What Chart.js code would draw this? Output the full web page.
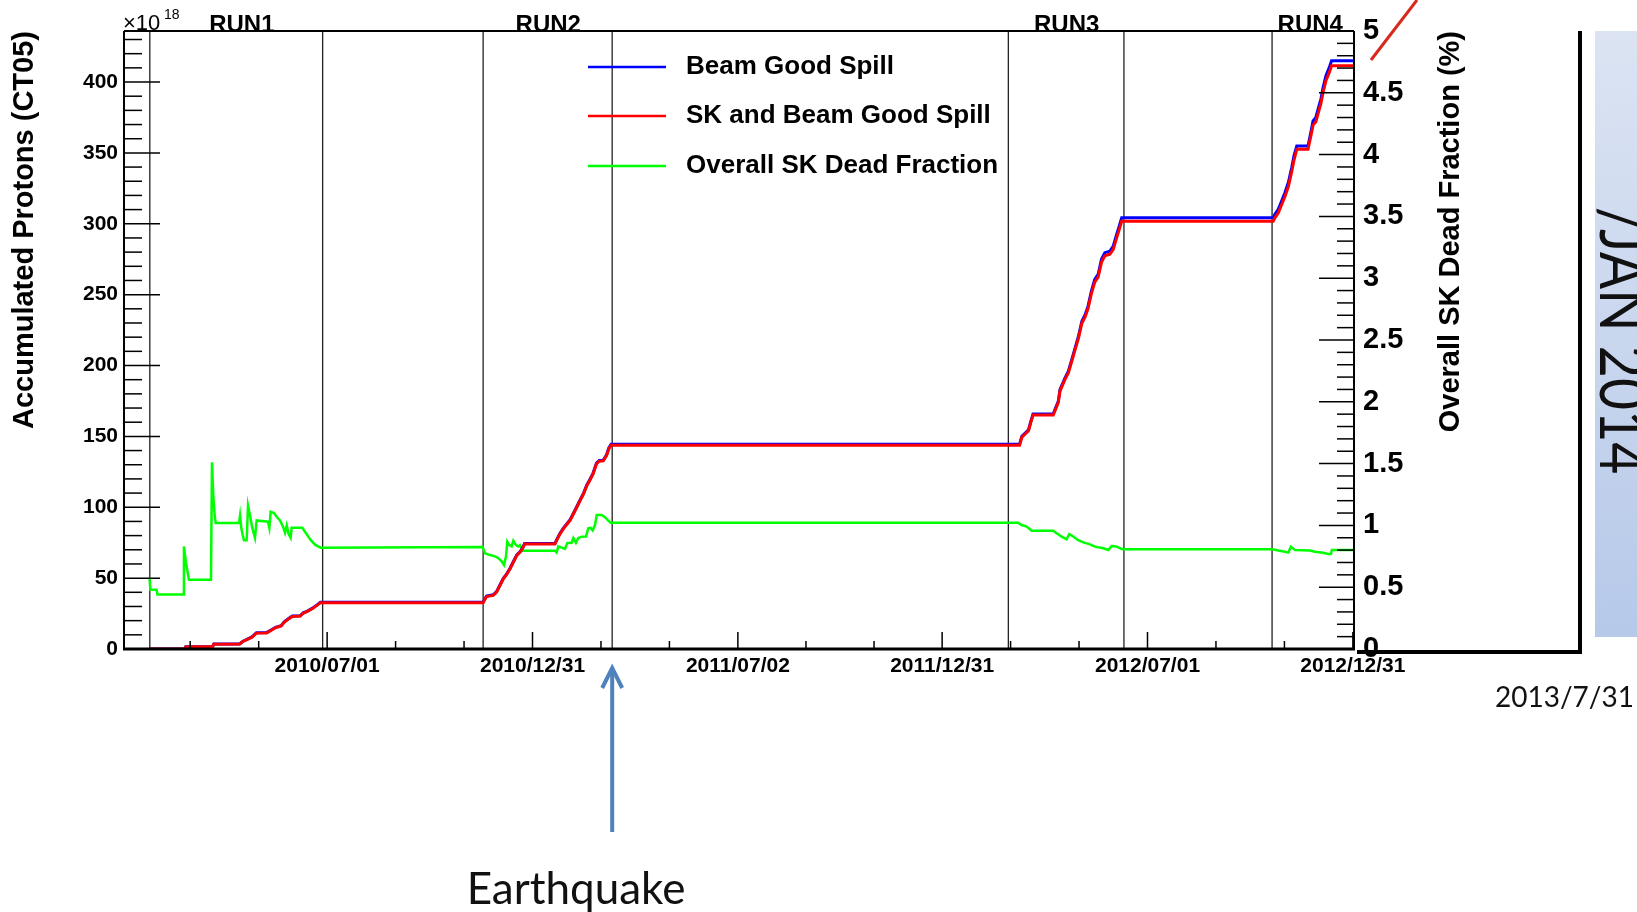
<!DOCTYPE html>
<html>
<head>
<meta charset="utf-8">
<title>Accumulated POT</title>
<script src="https://cdn.jsdelivr.net/npm/chart.js@4.4.1/dist/chart.umd.min.js"></script>
<style>
  html, body { margin: 0; padding: 0; background: #fff; }
  canvas { display: block; }
</style>
</head>
<body>
<canvas id="pot" width="1637" height="912"></canvas>
<script>
// days counted from 2010/01/01
const potDays = [23, 54, 55, 79, 80, 103, 106, 110, 114, 118, 127, 131, 135, 140, 143, 147, 150, 157, 160, 163, 168, 172, 175,
  320, 321, 323, 329, 332, 335, 338, 341, 344, 347, 350, 353, 355, 357, 384, 385.5, 388.5, 391.5, 394.5, 397.5, 400.5, 403.5,
  406.5, 409.5, 412.5, 415, 418, 421, 423.5, 427, 430, 432, 434,
  798, 800, 803, 806, 808, 810, 828, 829.5, 832.5, 834, 838.5, 841.5, 844.5, 847.5, 850.5, 853.5, 856.5, 859, 862, 865, 868,
  871, 874, 878.5, 881.5, 884.5, 887, 889,
  1024, 1025.5, 1028.5, 1031.5, 1034.5, 1037.5, 1040.5, 1042.5, 1045, 1055, 1057.5, 1059.5, 1062, 1064, 1066.5, 1068.5, 1071,
  1074, 1076, 1096];
// x10^18 protons
const beamPot = [0, 0, 1.6, 1.8, 3.5, 3.6, 5.5, 7.0, 8.5, 11.5, 11.6, 13.4, 15.3, 16.5, 19.3, 21.7, 23.3, 23.5, 25.7, 26.6, 28.8, 31.1, 33.0,
  33.0, 34.6, 37.4, 38.2, 40.5, 45.2, 49.9, 53.0, 57.0, 61.7, 66.4, 68.8, 71.1, 74.4, 74.4, 77.0, 81.7, 85.3, 88.3, 91.2, 95.9, 100.5,
  105.3, 110.0, 115.9, 119.4, 124.1, 131.2, 133.0, 133.2, 137.0, 141.8, 144.4,
  144.4, 150.0, 152.4, 154.7, 160.6, 165.8, 165.8, 168.9, 174.7, 183.0, 191.3, 196.0, 204.2, 212.5, 220.7, 231.3, 236.0, 241.9, 252.5, 260.7, 264.3,
  274.9, 279.6, 280.7, 284.3, 292.5, 298.9, 304.3,
  304.3, 306.7, 310.2, 316.1, 322.0, 329.1, 339.7, 347.9, 354.9, 354.9, 364.4, 372.6, 375.0, 380.9, 388.0, 396.2, 404.4,
  410.3, 415.0, 415.0];
const skPot = [0, 0, 1.5, 1.7, 3.4, 3.5, 5.3, 6.8, 8.3, 11.2, 11.3, 13.1, 15.0, 16.2, 19.0, 21.4, 23.0, 23.2, 25.4, 26.3, 28.5, 30.8, 32.6,
  32.6, 34.2, 37.0, 37.8, 40.1, 44.8, 49.5, 52.6, 56.6, 61.3, 66.0, 68.4, 70.7, 74.0, 74.0, 76.6, 81.2, 84.8, 87.8, 90.7, 95.4, 100.0,
  104.8, 109.5, 115.4, 118.9, 123.6, 130.7, 132.5, 132.7, 136.4, 141.2, 143.8,
  143.8, 149.3, 151.7, 154.0, 159.8, 165.0, 165.0, 168.0, 173.8, 182.0, 190.2, 194.8, 203.0, 211.2, 219.3, 229.8, 234.4, 240.2, 250.7, 258.8, 262.3,
  272.8, 277.4, 278.5, 282.0, 290.1, 296.4, 301.8,
  301.8, 304.2, 307.6, 313.4, 319.2, 326.2, 336.7, 344.8, 352.5, 352.5, 361.6, 369.6, 371.9, 377.7, 384.7, 392.8, 400.9,
  406.8, 411.4, 411.4];

const deadDays = [22.7, 23.5, 29, 29.8, 52.6, 53.4, 55.2, 57.9, 77.5, 78.4, 79.6, 80.8, 81.7, 102.5, 103.4, 104.5, 105.8, 106.9,
  109.3, 110.5, 112.3, 114.3, 116.7, 118.2, 128.3, 129.5, 130.7, 133.7, 136, 139, 141.7, 143.5, 145, 146.7, 148.5, 149.4,
  158.9, 161.9, 166.4, 170.8, 175.3,
  319.6, 321.7, 324.6, 330.6, 333.6, 336.5, 338.6, 340.4, 341.5, 343.3, 345.4, 346.9, 349.3, 351.3, 352.8, 355.2, 384, 385.5,
  387, 390, 392.9, 395, 398.9, 400.4, 402.7, 404.8, 407.8, 411.6, 413.7, 415.8, 417.6, 419.7, 421.2, 425.6, 428.6, 431.5, 433.7,
  796.8, 799.8, 804.3, 808.8, 828, 831, 835.5, 839.9, 842.3, 845.8, 850.3, 854.8, 860.7, 865.2, 872.6, 877.1, 880.1, 884, 889, 891.3,
  1023.5, 1028.5, 1034.5, 1037.4, 1039.8, 1043.4, 1056.8, 1061.2, 1068.6, 1073, 1075.4, 1076.3, 1096];
// percent
const deadPct = [0.58, 0.48, 0.48, 0.44, 0.44, 0.83, 0.70, 0.56, 0.56, 1.51, 1.23, 1.08, 1.02, 1.02, 1.08, 0.98, 0.92, 0.88,
  0.88, 1.16, 1.08, 0.98, 0.90, 1.04, 1.03, 0.98, 1.11, 1.10, 1.07, 1.04, 0.99, 0.94, 1.00, 0.93, 0.90, 0.98,
  0.98, 0.94, 0.88, 0.84, 0.82,
  0.825, 0.774, 0.765, 0.75, 0.735, 0.71, 0.68, 0.75, 0.868, 0.84, 0.83, 0.876, 0.84, 0.83, 0.84, 0.795, 0.795, 0.78,
  0.83, 0.82, 0.81, 0.857, 0.86, 0.898, 0.86, 0.898, 0.909, 0.91, 0.976, 0.98, 0.96, 1.003, 1.084, 1.084, 1.066, 1.038, 1.022,
  1.022, 1.003, 0.99, 0.957, 0.957, 0.936, 0.909, 0.887, 0.93, 0.91, 0.88, 0.863, 0.847, 0.828, 0.815, 0.801, 0.833, 0.83, 0.809, 0.807,
  0.807, 0.797, 0.787, 0.78, 0.828, 0.80, 0.797, 0.787, 0.779, 0.769, 0.769, 0.801, 0.801];

const dateTickDays = [181, 364, 547, 729, 912, 1095];
const dateTickLabels = ['2010/07/01', '2010/12/31', '2011/07/02', '2011/12/31', '2012/07/01', '2012/12/31'];
const protonTicks = [0, 50, 100, 150, 200, 250, 300, 350, 400];
const runNames = ['RUN1', 'RUN2', 'RUN3', 'RUN4'];
const runLabelDays = [105, 378, 840, 1057];
const runLineDays = [23, 177, 320, 435, 788, 891, 1023];
const quakeDay = 435;

const ROOT_FONT = '"Liberation Sans", Arial, sans-serif';
const SLIDE_FONT = 'Lato, "Open Sans", sans-serif';

const pts = (xs, ys) => xs.map((x, i) => ({ x: x, y: ys[i] }));

function seg(ctx, x1, y1, x2, y2) {
  ctx.beginPath();
  ctx.moveTo(x1, y1);
  ctx.lineTo(x2, y2);
  ctx.stroke();
}

// ROOT-style frame: inward ticks, run boundaries, labels and legend
const rootFrame = {
  id: 'rootFrame',
  beforeDatasetsDraw(chart) {
    const { ctx, chartArea: a, scales: { x } } = chart;
    ctx.save();
    ctx.strokeStyle = '#222';
    ctx.lineWidth = 1.3;
    runLineDays.forEach(d => {
      const px = x.getPixelForValue(d);
      seg(ctx, px, a.top, px, a.bottom);
    });
    ctx.restore();
  },
  afterDatasetsDraw(chart) {
    const { ctx, chartArea: a, scales: { x, y, y1 } } = chart;
    ctx.save();
    ctx.strokeStyle = '#000';
    ctx.lineWidth = 1.5;

    for (let v = 0; v <= y.max; v += 10) {
      const py = y.getPixelForValue(v);
      seg(ctx, a.left, py, a.left + (v % 50 === 0 ? 36 : 18), py);
    }
    for (let k = 0; k <= 50; k++) {
      const py = y1.getPixelForValue(k / 10);
      seg(ctx, a.right - (k % 5 === 0 ? 35 : 17), py, a.right, py);
    }
    const step = (dateTickDays[1] - dateTickDays[0]) / 3;
    const minor = [];
    for (let d = dateTickDays[0] - step; d > x.min; d -= step) minor.push(d);
    for (let i = 0; i < dateTickDays.length - 1; i++) {
      const s = (dateTickDays[i + 1] - dateTickDays[i]) / 3;
      minor.push(dateTickDays[i] + s, dateTickDays[i] + 2 * s);
    }
    minor.forEach(d => {
      const px = x.getPixelForValue(d);
      seg(ctx, px, a.bottom - 8, px, a.bottom);
    });
    dateTickDays.forEach(d => {
      const px = x.getPixelForValue(d);
      seg(ctx, px, a.bottom - 17, px, a.bottom);
    });

    // frame
    ctx.lineWidth = 2;
    seg(ctx, a.left, a.top, a.right, a.top);
    seg(ctx, a.left, a.top, a.left, a.bottom);
    seg(ctx, a.right, a.top, a.right, a.bottom);
    ctx.lineWidth = 3;
    seg(ctx, a.left - 1, a.bottom, a.right + 1, a.bottom);

    // run names
    ctx.fillStyle = '#000';
    ctx.font = 'bold 24px ' + ROOT_FONT;
    ctx.textAlign = 'center';
    ctx.textBaseline = 'alphabetic';
    runNames.forEach((n, i) => ctx.fillText(n, x.getPixelForValue(runLabelDays[i]), a.top + 1));

    // exponent
    ctx.textAlign = 'left';
    ctx.font = '22px ' + ROOT_FONT;
    ctx.fillText('\u00d710', a.left - 1, a.top - 1);
    ctx.font = '14px ' + ROOT_FONT;
    ctx.fillText('18', a.left + 40, a.top - 12);

    // legend
    const rows = [a.top + 36, a.top + 85, a.top + 135];
    const items = chart.data.datasets;
    ctx.font = 'bold 26px ' + ROOT_FONT;
    ctx.textBaseline = 'middle';
    items.forEach((ds, i) => {
      ctx.strokeStyle = ds.borderColor;
      ctx.lineWidth = 2.5;
      seg(ctx, 588, rows[i], 666, rows[i]);
      ctx.fillText(ds.label, 686, rows[i]);
    });

    // right axis title, reading upwards
    ctx.save();
    ctx.translate(1451, a.top);
    ctx.rotate(-Math.PI / 2);
    ctx.font = 'bold 29px ' + ROOT_FONT;
    ctx.textAlign = 'right';
    ctx.fillText('Overall SK Dead Fraction (%)', 0, 0);
    ctx.restore();
    ctx.restore();
  },
  afterDraw(chart) {
    const { ctx, chartArea: a, scales: { x } } = chart;
    ctx.save();

    // slide bracket and marker stroke
    ctx.strokeStyle = '#000';
    ctx.lineWidth = 4;
    ctx.beginPath();
    ctx.moveTo(1580, a.top);
    ctx.lineTo(1580, 652);
    ctx.lineTo(a.right + 3, 652);
    ctx.stroke();
    ctx.strokeStyle = '#d9291c';
    ctx.lineWidth = 3;
    seg(ctx, 1371, 60, 1417, 0);

    // side panel
    const g = ctx.createLinearGradient(1595, a.top, 1637, 637);
    g.addColorStop(0, '#dce4f3');
    g.addColorStop(1, '#b6c9e9');
    ctx.fillStyle = g;
    ctx.fillRect(1595, a.top, 60, 637 - a.top);
    ctx.save();
    ctx.translate(1600, 207);
    ctx.rotate(Math.PI / 2);
    ctx.scale(0.84, 1);
    ctx.fillStyle = '#111';
    ctx.font = '66px ' + SLIDE_FONT;
    ctx.textAlign = 'left';
    ctx.textBaseline = 'alphabetic';
    ctx.fillText('/JAN 2014', 0, 0);
    ctx.restore();

    ctx.fillStyle = '#111';
    ctx.font = '28px ' + SLIDE_FONT;
    ctx.textAlign = 'left';
    ctx.textBaseline = 'alphabetic';
    ctx.fillText('2013/7/31', 1495, 707);

    // earthquake marker
    const qx = x.getPixelForValue(quakeDay);
    ctx.strokeStyle = '#4f81bd';
    ctx.lineWidth = 4;
    seg(ctx, qx, 832, qx, 670);
    ctx.beginPath();
    ctx.moveTo(qx - 10, 688);
    ctx.lineTo(qx, 668);
    ctx.lineTo(qx + 10, 688);
    ctx.stroke();
    ctx.fillStyle = '#111';
    ctx.font = '44px ' + SLIDE_FONT;
    ctx.textAlign = 'center';
    ctx.fillText('Earthquake', 576, 904);
    ctx.restore();
  }
};

new Chart(document.getElementById('pot'), {
  type: 'line',
  data: {
    datasets: [
      {
        label: 'Beam Good Spill',
        data: pts(potDays, beamPot),
        borderColor: '#0000ff',
        borderWidth: 3,
        yAxisID: 'y',
        order: 1
      },
      {
        label: 'SK and Beam Good Spill',
        data: pts(potDays, skPot),
        borderColor: '#ff0000',
        borderWidth: 3,
        yAxisID: 'y',
        order: 0
      },
      {
        label: 'Overall SK Dead Fraction',
        data: pts(deadDays, deadPct),
        borderColor: '#00ff00',
        borderWidth: 2.5,
        yAxisID: 'y1',
        order: 2
      }
    ]
  },
  options: {
    responsive: false,
    devicePixelRatio: 1,
    animation: false,
    events: [],
    layout: { padding: { top: 31, left: 0, right: 0, bottom: 0 } },
    elements: {
      point: { radius: 0 },
      line: { tension: 0, fill: false }
    },
    plugins: {
      legend: { display: false },
      tooltip: { enabled: false }
    },
    scales: {
      x: {
        type: 'linear',
        min: 0,
        max: 1096,
        afterBuildTicks: s => { s.ticks = dateTickDays.map(v => ({ value: v })); },
        afterFit: s => { s.height = 263; },
        ticks: {
          autoSkip: false,
          maxRotation: 0,
          padding: 5,
          color: '#000',
          font: { family: ROOT_FONT, size: 21, weight: 'bold' },
          callback: v => dateTickLabels[dateTickDays.indexOf(v)]
        },
        grid: { display: false, drawTicks: false },
        border: { display: false }
      },
      y: {
        type: 'linear',
        position: 'left',
        min: 0,
        max: 436,
        afterBuildTicks: s => { s.ticks = protonTicks.map(v => ({ value: v })); },
        afterFit: s => { s.width = 124; },
        ticks: {
          padding: 6,
          color: '#000',
          font: { family: ROOT_FONT, size: 21, weight: 'bold' }
        },
        title: {
          display: true,
          text: 'Accumulated Protons (CT05)',
          align: 'end',
          color: '#000',
          padding: { top: 8, bottom: 0 },
          font: { family: ROOT_FONT, size: 29, weight: 'bold' }
        },
        grid: { display: false, drawTicks: false },
        border: { display: false }
      },
      y1: {
        type: 'linear',
        position: 'right',
        min: 0,
        max: 5,
        afterFit: s => { s.width = 283; },
        ticks: {
          stepSize: 0.5,
          padding: 9,
          color: '#000',
          font: { family: ROOT_FONT, size: 29, weight: 'bold' },
          callback: v => String(v)
        },
        grid: { display: false, drawTicks: false },
        border: { display: false }
      }
    }
  },
  plugins: [rootFrame]
});
</script>
</body>
</html>
